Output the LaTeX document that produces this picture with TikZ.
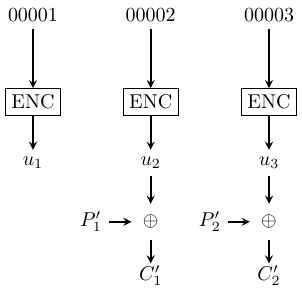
\documentclass[tikz,border=0pt]{standalone}
\usepackage{amsmath}
\usepackage{amssymb}
\usepackage{tikz}
\usetikzlibrary{arrows}

\begin{document}
\begin{tikzpicture}[>=stealth,flow/.style={->,thick},enc/.style={draw,inner sep=3pt},xor/.style={inner sep=5.5pt},cout/.style={inner sep=1pt}]
\useasboundingbox (0,0) rectangle (5.31,-5.24);
\node (m1) at (0.58,-0.26) {00001};
\node (m2) at (2.65,-0.26) {00002};
\node (m3) at (4.73,-0.26) {00003};
\node[enc] (e1) at (0.58,-1.79) {ENC};
\node[enc] (e2) at (2.65,-1.79) {ENC};
\node[enc] (e3) at (4.73,-1.79) {ENC};
\node (u1) at (0.58,-2.86) {\(u_1\)};
\node (u2) at (2.65,-2.86) {\(u_2\)};
\node (u3) at (4.73,-2.86) {\(u_3\)};
\node[xor] (x1) at (2.65,-3.90) {\(\oplus\)};
\node[xor] (x2) at (4.73,-3.90) {\(\oplus\)};
\node (p1) at (1.60,-3.90) {\(P_1'\)};
\node (p2) at (3.69,-3.90) {\(P_2'\)};
\node[cout] (c1) at (2.65,-4.85) {\(C_1'\)};
\node[cout] (c2) at (4.73,-4.85) {\(C_2'\)};
\draw[flow] (m1) -- (e1);
\draw[flow] (m2) -- (e2);
\draw[flow] (m3) -- (e3);
\draw[flow] (e1) -- (u1);
\draw[flow] (e2) -- (u2);
\draw[flow] (e3) -- (u3);
\draw[flow] (u2) -- (x1);
\draw[flow] (u3) -- (x2);
\draw[flow] (p1) -- (x1);
\draw[flow] (p2) -- (x2);
\draw[flow] (x1) -- (c1);
\draw[flow] (x2) -- (c2);
\end{tikzpicture}
\end{document}
